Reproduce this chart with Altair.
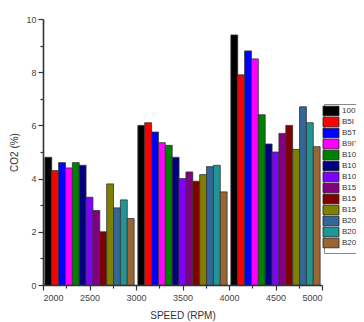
import altair as alt
import pandas as pd

series = ["100", "B5I", "B5T", "B9IT", "B10I", "B10T", "B10IT",
          "B15I", "B15T", "B15IT", "B20I", "B20T", "B20IT"]
colors = ["#000000", "#FF0000", "#0000FF", "#FF00FF", "#008000", "#000080",
          "#8000FF", "#800080", "#800000", "#808000", "#336699", "#209595", "#996633"]
speeds = [2500, 3500, 4500]
co2_2500 = [4.8, 4.3, 4.6, 4.4, 4.6, 4.5, 3.3, 2.8, 2.0, 3.8, 2.9, 3.2, 2.5]
co2_3500 = [6.0, 6.1, 5.75, 5.35, 5.25, 4.8, 4.0, 4.25, 3.9, 4.15, 4.45, 4.5, 3.5]
co2_4500 = [9.4, 7.9, 8.8, 8.5, 6.4, 5.3, 5.0, 5.7, 6.0, 5.1, 6.7, 6.1, 5.2]

rows = []
for speed, vals in zip(speeds, [co2_2500, co2_3500, co2_4500]):
    for i, (s, v) in enumerate(zip(series, vals)):
        rows.append({"speed": speed, "idx": i, "series": s, "co2": v})
df = pd.DataFrame(rows)

group_width = 960
bw = group_width / len(series)

chart = alt.Chart(df).transform_calculate(
    x0=f"datum.speed - {group_width / 2} + datum.idx * {bw}",
    x1=f"datum.speed - {group_width / 2} + (datum.idx + 1) * {bw}",
).mark_bar(stroke="#333333", strokeWidth=0.8).encode(
    x=alt.X("x0:Q", scale=alt.Scale(domain=[2000, 5000], nice=False, zero=False),
            axis=alt.Axis(title="SPEED (RPM)", values=list(range(2000, 5001, 250)),
                          format="d",
                          labelExpr="datum.value % 500 === 0 ? datum.label : ''",
                          tickSize={"condition": {"test": "datum.value % 500 === 0", "value": 5}, "value": 3},
                          labelPadding=3, titlePadding=8, grid=False)),
    x2="x1:Q",
    y=alt.Y("co2:Q", scale=alt.Scale(domain=[0, 10], nice=False),
            axis=alt.Axis(title="CO2 (%)", values=list(range(0, 11)),
                          labelExpr="datum.value % 2 === 0 ? datum.label : ''",
                          tickSize={"condition": {"test": "datum.value % 2 === 0", "value": 5}, "value": 3},
                          labelPadding=2, titlePadding=6, grid=False)),
    y2=alt.datum(0),
    color=alt.Color("series:N", scale=alt.Scale(domain=series, range=colors),
                    legend=alt.Legend(title=None, orient="none", legendX=281, legendY=85,
                                      symbolType="M-2.67,-1.6H2.67V1.6H-2.67Z", symbolSize=36,
                                      symbolStrokeColor="#222222", symbolStrokeWidth=0.8,
                                      symbolOpacity=1, labelFontSize=8, labelFont="Liberation Sans",
                                      labelColor="#333333", labelOffset=7, rowPadding=-4.8,
                                      padding=3, strokeColor="#888888", fillColor="white")),
).properties(
    width=279, height=266, autosize="none",
    padding={"left": 35, "top": 11, "right": 34, "bottom": 37},
).configure_view(stroke=None).configure_axis(
    domainColor="#333333", domainWidth=1.6, tickColor="#333333", tickWidth=1.2,
    labelColor="#444444", labelFont="Liberation Sans", labelFontSize=9,
    titleFont="Liberation Sans", titleFontSize=10, titleFontWeight="normal", titleColor="#333333",
)

chart.save("out.html", embed_options={"renderer": "svg", "actions": False})
